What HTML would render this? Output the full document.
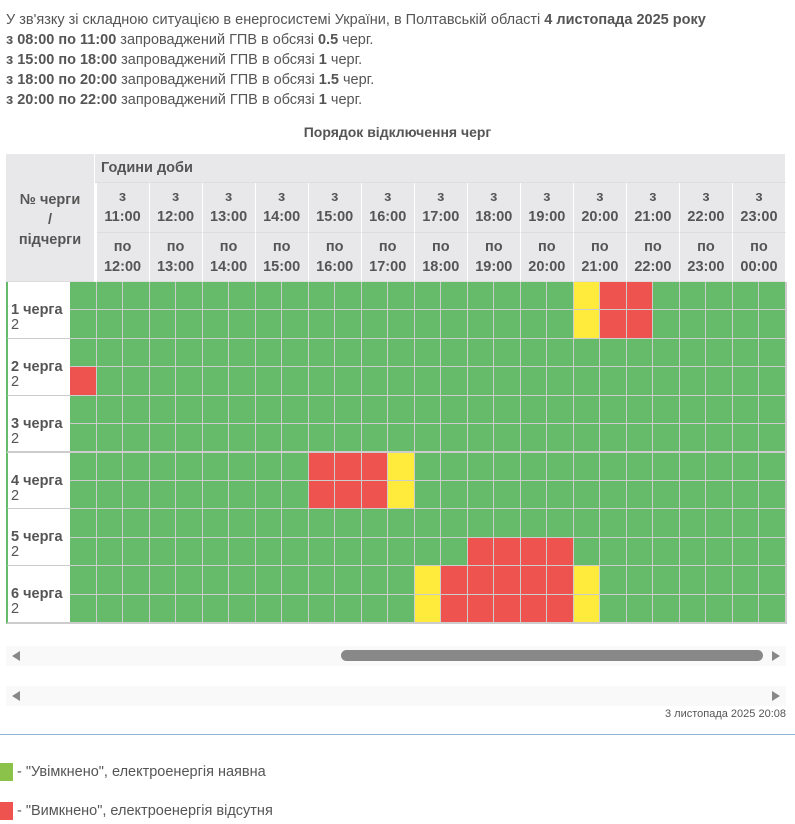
<!DOCTYPE html>
<html><head><meta charset="utf-8">
<style>
body{margin:0;width:795px;height:824px;background:#fff;font-family:"Liberation Sans","DejaVu Sans",sans-serif;color:#555;position:relative;overflow:hidden}
.info{position:absolute;left:6px;top:10px;font-size:14.5px;line-height:20px;}
.info div{white-space:nowrap}
b{color:#555}
#title{position:absolute;left:0;width:795px;top:124px;text-align:center;font-weight:bold;font-size:14px}
.hc{position:absolute;background:#e8e8ea;box-sizing:border-box;border-right:1px solid #fff;border-bottom:1px solid #ddd;text-align:center;font-size:14.5px;font-weight:bold;color:#555;line-height:20px;white-space:nowrap}
.cell{position:absolute;box-sizing:border-box;border-right:2px solid #ccc;border-bottom:2px solid #ccc}
.lab{position:absolute;left:6px;width:64px;background:#fff;border-bottom:2px solid #ccc;box-sizing:border-box;font-size:14.5px;font-weight:bold;white-space:nowrap}
.track{position:absolute;left:6px;width:780px;height:20px;background:#f9f9f9}
.arr{position:absolute;top:5px;width:0;height:0;border-top:5px solid transparent;border-bottom:5px solid transparent}
</style></head><body>
<div class="info">
<div>У зв'язку зі складною ситуацією в енергосистемі України, в Полтавській області <b>4 листопада 2025 року</b></div>
<div><b>з 08:00 по 11:00</b> запроваджений ГПВ в обсязі <b>0.5</b> черг.</div>
<div><b>з 15:00 по 18:00</b> запроваджений ГПВ в обсязі <b>1</b> черг.</div>
<div><b>з 18:00 по 20:00</b> запроваджений ГПВ в обсязі <b>1.5</b> черг.</div>
<div><b>з 20:00 по 22:00</b> запроваджений ГПВ в обсязі <b>1</b> черг.</div>
</div>
<div id="title">Порядок відключення черг</div>
<div id="table"></div>

<div class="track" style="top:646px">
<div class="arr" style="left:6px;border-right:8px solid #888"></div>
<div style="position:absolute;left:335px;top:4px;width:422px;height:11px;border-radius:6px;background:#888"></div>
<div class="arr" style="left:766px;border-left:8px solid #888"></div>
</div>
<div class="track" style="top:686px">
<div class="arr" style="left:6px;border-right:8px solid #888"></div>
<div class="arr" style="left:766px;border-left:8px solid #888"></div>
</div>
<div style="position:absolute;right:9px;top:708px;font-size:11px;color:#555">3 листопада 2025 20:08</div>
<div style="position:absolute;left:0;top:734px;width:795px;height:1px;background:#8fb4d4"></div>
<div style="position:absolute;left:0;top:763px;width:13px;height:18px;background:#8bc34a"></div>
<div style="position:absolute;left:17px;top:764px;font-size:14.5px">- "Увімкнено", електроенергія наявна</div>
<div style="position:absolute;left:0;top:802px;width:13px;height:18px;background:#ef5350"></div>
<div style="position:absolute;left:17px;top:803px;font-size:14.5px">- "Вимкнено", електроенергія відсутня</div>

<script>
// hours shown in header (start hours)
const hourStarts = ["11:00","12:00","13:00","14:00","15:00","16:00","17:00","18:00","19:00","20:00","21:00","22:00","23:00"];
const hourEnds = ["12:00","13:00","14:00","15:00","16:00","17:00","18:00","19:00","20:00","21:00","22:00","23:00","00:00"];
const queues = ["1 черга","2 черга","3 черга","4 черга","5 черга","6 черга"];
// half-hour slot states per sub-queue, slot 0 = 10:30. 0=on,1=off,2=maybe
const q1s1 = [0,0,0,0,0,0,0,0,0,0,0,0,0,0,0,0,0,0,0,2,1,1,0,0,0,0,0];
const q1s2 = [0,0,0,0,0,0,0,0,0,0,0,0,0,0,0,0,0,0,0,2,1,1,0,0,0,0,0];
const q2s1 = [0,0,0,0,0,0,0,0,0,0,0,0,0,0,0,0,0,0,0,0,0,0,0,0,0,0,0];
const q2s2 = [1,0,0,0,0,0,0,0,0,0,0,0,0,0,0,0,0,0,0,0,0,0,0,0,0,0,0];
const q3s1 = [0,0,0,0,0,0,0,0,0,0,0,0,0,0,0,0,0,0,0,0,0,0,0,0,0,0,0];
const q3s2 = [0,0,0,0,0,0,0,0,0,0,0,0,0,0,0,0,0,0,0,0,0,0,0,0,0,0,0];
const q4s1 = [0,0,0,0,0,0,0,0,0,1,1,1,2,0,0,0,0,0,0,0,0,0,0,0,0,0,0];
const q4s2 = [0,0,0,0,0,0,0,0,0,1,1,1,2,0,0,0,0,0,0,0,0,0,0,0,0,0,0];
const q5s1 = [0,0,0,0,0,0,0,0,0,0,0,0,0,0,0,0,0,0,0,0,0,0,0,0,0,0,0];
const q5s2 = [0,0,0,0,0,0,0,0,0,0,0,0,0,0,0,1,1,1,1,0,0,0,0,0,0,0,0];
const q6s1 = [0,0,0,0,0,0,0,0,0,0,0,0,0,2,1,1,1,1,1,2,0,0,0,0,0,0,0];
const q6s2 = [0,0,0,0,0,0,0,0,0,0,0,0,0,2,1,1,1,1,1,2,0,0,0,0,0,0,0];
const rows = [q1s1,q1s2,q2s1,q2s2,q3s1,q3s2,q4s1,q4s2,q5s1,q5s2,q6s1,q6s2];

const colors=["#66bb6a","#ef5350","#ffeb3b"];
const X0=70, CW=(786-70)/27, Y0=282, RH=(623-282)/12;
const xs=i=>X0+i*CW, ys=r=>Y0+r*RH;
const t=document.getElementById('table');
function mk(cls,l,tp,w,h,html){const d=document.createElement('div');d.className=cls;d.style.left=l+'px';d.style.top=tp+'px';d.style.width=w+'px';d.style.height=h+'px';if(html)d.innerHTML=html;t.appendChild(d);return d;}
let e=mk('hc',6,154,89,128,'<div style="padding-top:36px">№ черги<br>/<br>підчерги</div>');


e=mk('hc',95,154,691,29,'<div style="text-align:left;padding:4px 0 0 6px">Години доби</div>');


hourStarts.forEach((h,i)=>{
 let a=mk('hc',xs(1+2*i),183,CW*2,50,'<div style="padding-top:4px">з<br>'+h+'</div>');
 
 
 let b=mk('hc',xs(1+2*i),233,CW*2,49,'<div style="padding-top:4px">по<br>'+hourEnds[i]+'</div>');
 
 
});
rows.forEach((r,ri)=>{
 r.forEach((v,ci)=>{
  let c=mk('cell',xs(ci),ys(ri),CW+1,RH+1);
  c.style.background=colors[v];
  
  
 });
});
queues.forEach((q,i)=>{
 let l=mk('lab',6,ys(i*2),64,RH*2+1,'<div style="position:absolute;left:3px;top:20px">'+q+'</div><div style="position:absolute;left:3px;top:35px;font-weight:normal">2</div>');
 l.style.borderLeft='2px solid #66bb6a';
 
 
});
</script>
</body></html>
